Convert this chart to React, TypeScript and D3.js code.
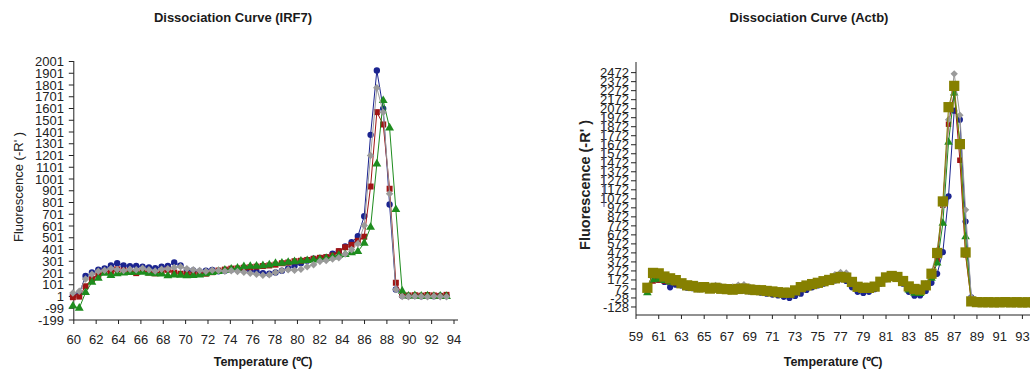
import React from 'react';
import * as d3 from 'd3';

// ---------- Left chart: Dissociation Curve (IRF7) ----------
const tempsL = [59.92, 60.49, 61.05, 61.62, 62.19, 62.75, 63.32, 63.88, 64.45, 65.02,
  65.58, 66.15, 66.72, 67.28, 67.85, 68.41, 68.98, 69.55, 70.11, 70.68,
  71.25, 71.81, 72.38, 72.94, 73.51, 74.08, 74.64, 75.21, 75.78, 76.34,
  76.91, 77.48, 78.04, 78.61, 79.17, 79.74, 80.31, 80.87, 81.44, 82.01,
  82.57, 83.14, 83.7, 84.27, 84.84, 85.4, 85.97, 86.54, 87.1, 87.67,
  88.24, 88.8, 89.37, 89.93, 90.5, 91.07, 91.63, 92.2, 92.77, 93.33];

const irfBlue = [10, 25, 175, 205, 230, 240, 265, 285, 265, 258,
  262, 255, 248, 242, 255, 262, 290, 265, 228, 222,
  215, 220, 228, 215, 220, 228, 232, 236, 225, 212,
  200, 195, 205, 220, 240, 262, 285, 305, 322, 330,
  336, 365, 384, 427, 463, 514, 684, 1377, 1924, 1600,
  784, 60, 8, 5, 8, 3, 6, 4, 8, 5];

const irfRed = [-5, 0, 88, 150, 185, 210, 215, 232, 222, 215,
  200, 218, 205, 198, 212, 228, 205, 195, 190, 188,
  196, 195, 208, 222, 230, 238, 240, 246, 250, 255,
  260, 265, 272, 284, 290, 301, 305, 312, 322, 330,
  336, 350, 387, 420, 440, 475, 510, 937, 1570, 1465,
  918, 118, 15, 10, 12, 8, 14, 10, 6, 15];

const irfGreen = [-80, -98, 35, 122, 156, 199, 180, 195, 202, 205,
  208, 207, 200, 196, 193, 179, 185, 182, 179, 180,
  185, 195, 205, 215, 225, 235, 242, 255, 258, 260,
  264, 270, 283, 285, 292, 298, 303, 307, 312, 318,
  325, 338, 352, 360, 373, 384, 455, 590, 1130, 1669,
  1436, 741, 46, 5, 8, 4, 6, 3, 5, 2];

const irfGray = [30, 45, 150, 190, 215, 225, 240, 230, 222, 232,
  228, 242, 228, 218, 232, 238, 248, 255, 238, 228,
  222, 215, 225, 222, 216, 220, 214, 208, 198, 190,
  182, 186, 205, 222, 228, 224, 232, 255, 272, 300,
  307, 320, 330, 362, 400, 450, 605, 1201, 1777, 1570,
  875, 60, 2, 0, 4, 2, -2, 3, 0, -2];

const xTicksL = [60, 62, 64, 66, 68, 70, 72, 74, 76, 78, 80, 82, 84, 86, 88, 90, 92, 94];
const yTicksL = [-199, -99, 1, 101, 201, 301, 401, 501, 601, 701, 801, 901, 1001, 1101,
  1201, 1301, 1401, 1501, 1601, 1701, 1801, 1901, 2001];

// ---------- Right chart: Dissociation Curve (Actb) ----------
const tempsR = [60, 60.5, 61, 61.5, 62, 62.5, 63, 63.5, 64, 64.5,
  65, 65.5, 66, 66.5, 67, 67.5, 68, 68.5, 69, 69.5,
  70, 70.5, 71, 71.5, 72, 72.5, 73, 73.5, 74, 74.5,
  75, 75.5, 76, 76.5, 77, 77.5, 78, 78.5, 79, 79.5,
  80, 80.5, 81, 81.5, 82, 82.5, 83, 83.5, 84, 84.5,
  85, 85.5, 86, 86.5, 87, 87.5, 88, 88.5, 89, 89.5,
  90, 90.5, 91, 91.5, 92, 92.5, 93, 93.5, 94];

const actbBlue = [80, 190, 175, 150, 90, 120, 110, 85, 80, 70,
  75, 60, 70, 60, 55, 50, 60, 55, 45, 40,
  30, 20, 10, 0, -15, -28, -5, 20, 60, 90,
  110, 130, 150, 167, 180, 160, 90, 40, 27, 40,
  70, 130, 180, 200, 190, 130, 40, -3, 0, 50,
  140, 240, 480, 1100, 2050, 1950, 820, -20, -70, -74,
  -75, -76, -74, -77, -75, -76, -74, -77, -75];

const actbRed = [95, 160, 170, 160, 150, 140, 125, 118, 110, 100,
  98, 90, 95, 88, 85, 90, 95, 100, 85, 70,
  65, 55, 45, 40, 35, 40, 60, 95, 115, 130,
  145, 160, 175, 195, 215, 210, 140, 90, 75, 85,
  100, 150, 205, 220, 210, 150, 90, 55, 60, 120,
  200, 400, 1000, 1900, 2250, 1500, 450, -55, -72, -73,
  -70, -74, -72, -73, -71, -74, -72, -73, -74];

const actbGreen = [30, 175, 180, 165, 150, 140, 120, 110, 100, 92,
  90, 80, 85, 78, 70, 68, 75, 78, 70, 60,
  55, 50, 40, 30, 25, 28, 50, 85, 105, 120,
  135, 150, 160, 175, 190, 185, 120, 70, 60, 75,
  95, 145, 195, 210, 195, 140, 60, 25, 20, 90,
  190, 360, 800, 1700, 2245, 1700, 650, -50, -72, -75,
  -76, -74, -75, -77, -76, -74, -75, -76, -77];

const actbGray = [100, 230, 230, 200, 185, 160, 140, 125, 120, 115,
  105, 95, 110, 100, 90, 95, 115, 120, 95, 80,
  70, 60, 50, 45, 40, 45, 70, 100, 120, 135,
  150, 170, 190, 230, 255, 250, 160, 100, 90, 90,
  105, 160, 210, 225, 215, 165, 105, 70, 70, 130,
  260, 500, 1000, 1950, 2459, 2000, 950, -20, -72, -74,
  -73, -75, -74, -76, -73, -75, -74, -76, -75];

const actbOlive = [85, 250, 245, 210, 190, 170, 135, 112, 105, 88,
  92, 76, 85, 74, 70, 64, 72, 76, 66, 60,
  58, 50, 44, 36, 30, 30, 56, 92, 110, 126,
  140, 158, 172, 190, 205, 198, 150, 96, 84, 84,
  98, 152, 200, 216, 205, 160, 100, 72, 64, 112,
  241, 471, 1043, 2089, 2325, 1679, 477, -66, -74, -76,
  -75, -77, -76, -74, -77, -75, -78, -76, -77];

const xTicksR = [59, 61, 63, 65, 67, 69, 71, 73, 75, 77, 79, 81, 83, 85, 87, 89, 91, 93];
const yTicksR = [-128, -28, 72, 172, 272, 372, 472, 572, 672, 772, 872, 972, 1072, 1172,
  1272, 1372, 1472, 1572, 1672, 1772, 1872, 1972, 2072, 2172, 2272, 2372, 2472];

// ---------- styles ----------
const FONT = "'Liberation Sans', Arial, sans-serif";
const C_BLUE = '#1b2490';
const C_RED = '#a01414';
const C_GREEN = '#1e8c1e';
const C_GRAY = '#9a9a9a';
const C_OLIVE = '#868000';
const TXT = '#222';

type Scale = d3.ScaleLinear<number, number>;

function Series(props: { xs: number[]; ys: number[]; x: Scale; y: Scale; color: string; symbol: d3.SymbolType; size: number }) {
  const { xs, ys, x, y, color, symbol, size } = props;
  const line = d3.line<number>().x((_, i) => x(xs[i])).y((d) => y(d));
  const sym = d3.symbol().type(symbol).size(size)() as string;
  return (
    <g>
      <path d={line(ys) as string} fill="none" stroke={color} strokeWidth={1} />
      {ys.map((v, i) => (
        <path key={i} d={sym} transform={`translate(${x(xs[i])},${y(v)})`} fill={color} />
      ))}
    </g>
  );
}

function Axes(props: {
  x: Scale; y: Scale; xTicks: number[]; yTicks: number[]; x0: number; x1: number; yBottom: number; yTop: number;
  yLabelX: number; xLabelY: number; fontSize: number;
}) {
  const { x, y, xTicks, yTicks, x0, x1, yBottom, yTop, yLabelX, xLabelY, fontSize } = props;
  return (
    <g fontFamily={FONT} fill={TXT}>
      <line x1={x0} x2={x0} y1={yTop} y2={yBottom} stroke="#222" strokeWidth={1} />
      <line x1={x0} x2={x1} y1={yBottom} y2={yBottom} stroke="#222" strokeWidth={1} />
      {yTicks.map((t) => (
        <g key={'y' + t}>
          <line x1={x0 - 5} x2={x0} y1={y(t)} y2={y(t)} stroke="#222" strokeWidth={1} />
          <text x={yLabelX} y={y(t)} dy="0.35em" textAnchor="end" fontSize={fontSize}>{t}</text>
        </g>
      ))}
      {xTicks.map((t) => (
        <g key={'x' + t}>
          <line x1={x(t)} x2={x(t)} y1={yBottom} y2={yBottom + 4} stroke="#222" strokeWidth={1} />
          <text x={x(t)} y={xLabelY} dy="0.35em" textAnchor="middle" fontSize={fontSize}>{t}</text>
        </g>
      ))}
    </g>
  );
}

export default function App() {
  // left chart scales
  const xL = d3.scaleLinear().domain([60, 94]).range([73.8, 454]);
  const yL = d3.scaleLinear().domain([-199, 2001]).range([320, 61.5]);
  // right chart scales
  const xR = d3.scaleLinear().domain([59, 93]).range([636, 1022.4]);
  const yR = d3.scaleLinear().domain([-217, 2590]).range([315, 62]);

  return (
    <svg width={1030} height={374} style={{ position: 'absolute', left: 0, top: 0, background: '#fff' }}>
      <rect x={0} y={0} width={1030} height={374} fill="#fff" />
      {/* Left chart */}
      <text x={233} y={22} textAnchor="middle" fontFamily={FONT} fontSize={13} fontWeight="bold" fill="#1a1a1a">Dissociation Curve (IRF7)</text>
      <Axes x={xL} y={yL} xTicks={xTicksL} yTicks={yTicksL} x0={73.8} x1={458} yBottom={320} yTop={61}
        yLabelX={64} xLabelY={339} fontSize={13} />
      <text transform="translate(23,187) rotate(-90)" textAnchor="middle" fontFamily={FONT} fontSize={13} fill={TXT}>Fluorescence (-R' )</text>
      <text x={263} y={366} textAnchor="middle" fontFamily={FONT} fontSize={12.5} fontWeight="bold" fill="#1a1a1a">Temperature (℃)</text>
      <Series xs={tempsL} ys={irfBlue} x={xL} y={yL} color={C_BLUE} symbol={d3.symbolCircle} size={32} />
      <Series xs={tempsL} ys={irfRed} x={xL} y={yL} color={C_RED} symbol={d3.symbolSquare} size={36} />
      <Series xs={tempsL} ys={irfGreen} x={xL} y={yL} color={C_GREEN} symbol={d3.symbolTriangle} size={34} />
      <Series xs={tempsL} ys={irfGray} x={xL} y={yL} color={C_GRAY} symbol={d3.symbolDiamond2} size={36} />

      {/* Right chart */}
      <text x={809} y={22} textAnchor="middle" fontFamily={FONT} fontSize={13} fontWeight="bold" fill="#1a1a1a">Dissociation Curve (Actb)</text>
      <Axes x={xR} y={yR} xTicks={xTicksR} yTicks={yTicksR} x0={636} x1={1030} yBottom={315} yTop={62}
        yLabelX={629} xLabelY={336} fontSize={13} />
      <line x1={604} x2={604} y1={113} y2={207} stroke="#5a5a9a" strokeWidth={1} />
      <text transform="translate(590,185) rotate(-90)" textAnchor="middle" fontFamily={FONT} fontSize={14.5} fontWeight="bold" fill={TXT}>Fluorescence (-R' )</text>
      <text x={833} y={366} textAnchor="middle" fontFamily={FONT} fontSize={12.5} fontWeight="bold" fill="#1a1a1a">Temperature (℃)</text>
      <Series xs={tempsR} ys={actbBlue} x={xR} y={yR} color={C_BLUE} symbol={d3.symbolCircle} size={30} />
      <Series xs={tempsR} ys={actbRed} x={xR} y={yR} color={C_RED} symbol={d3.symbolSquare} size={30} />
      <Series xs={tempsR} ys={actbGreen} x={xR} y={yR} color={C_GREEN} symbol={d3.symbolTriangle} size={32} />
      <Series xs={tempsR} ys={actbGray} x={xR} y={yR} color={C_GRAY} symbol={d3.symbolDiamond2} size={34} />
      <Series xs={tempsR} ys={actbOlive} x={xR} y={yR} color={C_OLIVE} symbol={d3.symbolSquare} size={105} />
    </svg>
  );
}
